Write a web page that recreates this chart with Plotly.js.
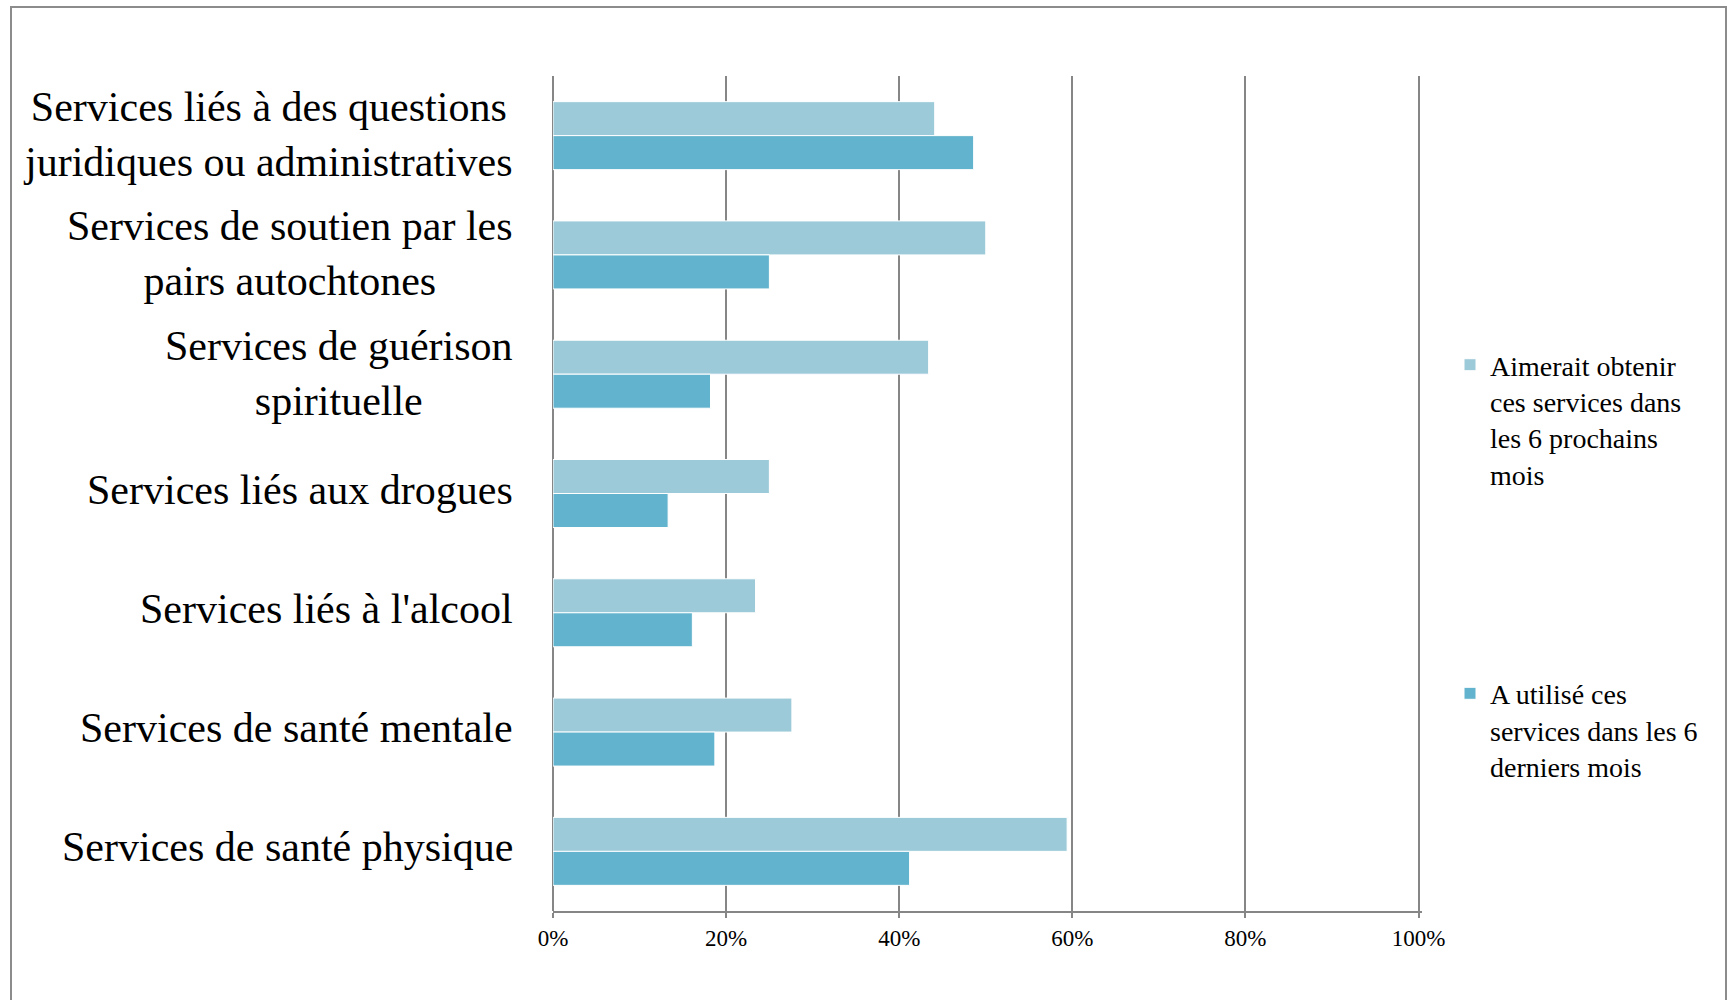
<!DOCTYPE html>
<html>
<head>
<meta charset="utf-8">
<script src="https://cdn.plot.ly/plotly-3.0.1.min.js"></script>
<style>html,body{margin:0;padding:0;background:#fff;}#chart{width:1735px;height:1000px;}</style>
</head>
<body>
<div id="chart"></div>
<script>
// Categories (top to bottom)
const categories = [
  "Services liés à des questions<br>juridiques ou administratives",
  "Services de soutien par les<br>pairs autochtones",
  "Services de guérison<br>spirituelle",
  "Services liés aux drogues",
  "Services liés à l'alcool",
  "Services de santé mentale",
  "Services de santé physique"
];
const seriesNames = [
  "Aimerait obtenir<br>ces services dans<br>les 6 prochains<br>mois",
  "A utilisé ces<br>services dans les 6<br>derniers mois"
];
// Values (share of respondents)
const aimeraitObtenir = [0.441, 0.500, 0.434, 0.250, 0.234, 0.276, 0.594];
const aUtilise        = [0.486, 0.250, 0.182, 0.133, 0.161, 0.187, 0.412];
const xTickVals = [0, 0.2, 0.4, 0.6, 0.8, 1.0];

const colors = ["#9DCAD9", "#62B3CD"];
const FONT = "'Liberation Serif', 'Times New Roman', serif";

// plot area in pixels
const W = 1735, H = 1000;
const L = 553, R = 1422, T = 76, B = 911;
const px2x = p => (p - L) / (R - L);
const px2y = p => (B - p) / (B - T);

const traces = [
  {type: "bar", orientation: "h", name: seriesNames[0], y: categories, x: aimeraitObtenir,
   marker: {color: colors[0], line: {color: "#ffffff", width: 1}}, legendgroup: "a", hoverinfo: "x+y"},
  {type: "bar", orientation: "h", name: seriesNames[1], y: categories, x: aUtilise,
   marker: {color: colors[1], line: {color: "#ffffff", width: 1}}, legendgroup: "b", hoverinfo: "x+y"}
];

const annotations = categories.map(c => ({
  xref: "paper", yref: "y", x: px2x(515), y: c, xanchor: "right", yanchor: "middle",
  yshift: c.indexOf("<br>") >= 0 ? 1 : 4,
  text: c, showarrow: false, align: "center",
  font: {family: FONT, size: 42, color: "#000"}
}));

const gray = "#868686";
const layout = {
  width: W, height: H,
  margin: {l: L, r: W - R, t: T, b: H - B, pad: 0},
  paper_bgcolor: "#ffffff", plot_bgcolor: "#ffffff",
  barmode: "group", bargap: 0.43, bargroupgap: 0,
  font: {family: FONT, color: "#000"},
  xaxis: {
    range: [0, 1.004], tickvals: xTickVals, tickformat: ".0%",
    showgrid: true, gridcolor: gray, gridwidth: 2,
    zeroline: true, zerolinecolor: gray, zerolinewidth: 2,
    showline: true, linecolor: gray, linewidth: 2,
    ticks: "outside", ticklen: 5, tickcolor: gray, tickwidth: 2,
    tickfont: {family: FONT, size: 23, color: "#000"}, fixedrange: true
  },
  yaxis: {
    autorange: "reversed", showticklabels: false, showgrid: false,
    showline: false, zeroline: false, ticks: "", fixedrange: true
  },
  legend: {
    x: px2x(1450), y: px2y(340), xanchor: "left", yanchor: "top",
    traceorder: "grouped", tracegroupgap: 180, valign: "top",
    font: {family: FONT, size: 28, color: "#000"}, bgcolor: "rgba(0,0,0,0)"
  },
  annotations: annotations,
  shapes: [
    {type: "path", xref: "paper", yref: "paper",
     path: `M ${px2x(11)} ${px2y(1010)} L ${px2x(11)} ${px2y(7)} L ${px2x(1726)} ${px2y(7)} L ${px2x(1726)} ${px2y(1010)}`,
     line: {color: "#8c8c8c", width: 2}}
  ],
  showlegend: true
};

Plotly.newPlot("chart", traces, layout, {displayModeBar: false, staticPlot: true});
</script>
</body>
</html>
